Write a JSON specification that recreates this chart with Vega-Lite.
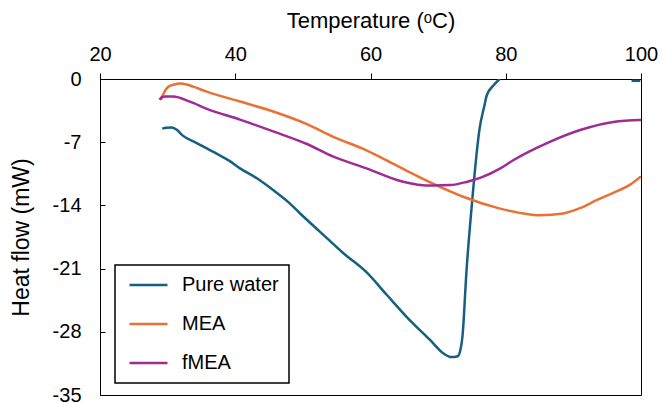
{
  "$schema": "https://vega.github.io/schema/vega-lite/v6.json",
  "width": 541,
  "height": 316,
  "autosize": {"type": "none"},
  "padding": {"left": 100, "top": 79, "right": 21, "bottom": 8},
  "background": "white",
  "config": {
    "font": "Liberation Sans",
    "view": {"stroke": "black", "strokeWidth": 1},
    "axis": {"grid": false, "domainColor": "black", "tickColor": "black", "labelColor": "black", "titleColor": "black", "labelFont": "Liberation Sans", "titleFont": "Liberation Sans", "titleFontWeight": "normal"}
  },
  "data": {
    "values": [
      {"series": "Pure water", "seg": "a", "T": 29.2, "H": -5.5},
      {"series": "Pure water", "seg": "a", "T": 29.8, "H": -5.4},
      {"series": "Pure water", "seg": "a", "T": 30.6, "H": -5.36},
      {"series": "Pure water", "seg": "a", "T": 31.3, "H": -5.6},
      {"series": "Pure water", "seg": "a", "T": 32.3, "H": -6.3},
      {"series": "Pure water", "seg": "a", "T": 34.3, "H": -7.1},
      {"series": "Pure water", "seg": "a", "T": 37.3, "H": -8.3},
      {"series": "Pure water", "seg": "a", "T": 39.2, "H": -9.1},
      {"series": "Pure water", "seg": "a", "T": 40.7, "H": -9.9},
      {"series": "Pure water", "seg": "a", "T": 43.2, "H": -11.0},
      {"series": "Pure water", "seg": "a", "T": 45.6, "H": -12.3},
      {"series": "Pure water", "seg": "a", "T": 48.1, "H": -13.8},
      {"series": "Pure water", "seg": "a", "T": 49.6, "H": -14.9},
      {"series": "Pure water", "seg": "a", "T": 52.5, "H": -16.9},
      {"series": "Pure water", "seg": "a", "T": 56.0, "H": -19.3},
      {"series": "Pure water", "seg": "a", "T": 59.4, "H": -21.4},
      {"series": "Pure water", "seg": "a", "T": 62.4, "H": -23.9},
      {"series": "Pure water", "seg": "a", "T": 65.4, "H": -26.4},
      {"series": "Pure water", "seg": "a", "T": 68.8, "H": -28.9},
      {"series": "Pure water", "seg": "a", "T": 70.8, "H": -30.4},
      {"series": "Pure water", "seg": "a", "T": 72.0, "H": -30.8},
      {"series": "Pure water", "seg": "a", "T": 72.9, "H": -30.7},
      {"series": "Pure water", "seg": "a", "T": 73.3, "H": -30.0},
      {"series": "Pure water", "seg": "a", "T": 73.6, "H": -28.5},
      {"series": "Pure water", "seg": "a", "T": 74.2, "H": -21.2},
      {"series": "Pure water", "seg": "a", "T": 75.0, "H": -13.8},
      {"series": "Pure water", "seg": "a", "T": 75.7, "H": -8.2},
      {"series": "Pure water", "seg": "a", "T": 76.1, "H": -5.65},
      {"series": "Pure water", "seg": "a", "T": 76.8, "H": -3.1},
      {"series": "Pure water", "seg": "a", "T": 77.2, "H": -1.8},
      {"series": "Pure water", "seg": "a", "T": 78.2, "H": -0.7},
      {"series": "Pure water", "seg": "a", "T": 79.1, "H": 0},
      {"series": "Pure water", "seg": "b", "T": 98.6, "H": -0.2},
      {"series": "Pure water", "seg": "b", "T": 99.9, "H": -0.2},
      {"series": "MEA", "seg": "a", "T": 29.0, "H": -2.3},
      {"series": "MEA", "seg": "a", "T": 29.4, "H": -1.6},
      {"series": "MEA", "seg": "a", "T": 30.1, "H": -0.85},
      {"series": "MEA", "seg": "a", "T": 31.0, "H": -0.6},
      {"series": "MEA", "seg": "a", "T": 31.8, "H": -0.5},
      {"series": "MEA", "seg": "a", "T": 32.8, "H": -0.6},
      {"series": "MEA", "seg": "a", "T": 33.8, "H": -0.85},
      {"series": "MEA", "seg": "a", "T": 35.8, "H": -1.4},
      {"series": "MEA", "seg": "a", "T": 40.7, "H": -2.5},
      {"series": "MEA", "seg": "a", "T": 45.6, "H": -3.6},
      {"series": "MEA", "seg": "a", "T": 50.6, "H": -5.0},
      {"series": "MEA", "seg": "a", "T": 54.5, "H": -6.4},
      {"series": "MEA", "seg": "a", "T": 59.4, "H": -7.9},
      {"series": "MEA", "seg": "a", "T": 64.4, "H": -9.8},
      {"series": "MEA", "seg": "a", "T": 69.0, "H": -11.5},
      {"series": "MEA", "seg": "a", "T": 73.9, "H": -13.1},
      {"series": "MEA", "seg": "a", "T": 78.9, "H": -14.3},
      {"series": "MEA", "seg": "a", "T": 83.6, "H": -15.0},
      {"series": "MEA", "seg": "a", "T": 85.1, "H": -15.1},
      {"series": "MEA", "seg": "a", "T": 88.5, "H": -14.9},
      {"series": "MEA", "seg": "a", "T": 91.0, "H": -14.3},
      {"series": "MEA", "seg": "a", "T": 93.5, "H": -13.4},
      {"series": "MEA", "seg": "a", "T": 95.9, "H": -12.6},
      {"series": "MEA", "seg": "a", "T": 98.4, "H": -11.7},
      {"series": "MEA", "seg": "a", "T": 100, "H": -10.8},
      {"series": "fMEA", "seg": "a", "T": 28.8, "H": -2.3},
      {"series": "fMEA", "seg": "a", "T": 29.2, "H": -2.0},
      {"series": "fMEA", "seg": "a", "T": 29.6, "H": -1.95},
      {"series": "fMEA", "seg": "a", "T": 30.8, "H": -1.95},
      {"series": "fMEA", "seg": "a", "T": 33.3, "H": -2.5},
      {"series": "fMEA", "seg": "a", "T": 35.8, "H": -3.3},
      {"series": "fMEA", "seg": "a", "T": 40.7, "H": -4.5},
      {"series": "fMEA", "seg": "a", "T": 45.6, "H": -5.8},
      {"series": "fMEA", "seg": "a", "T": 50.6, "H": -7.2},
      {"series": "fMEA", "seg": "a", "T": 54.5, "H": -8.6},
      {"series": "fMEA", "seg": "a", "T": 59.4, "H": -9.9},
      {"series": "fMEA", "seg": "a", "T": 64.4, "H": -11.3},
      {"series": "fMEA", "seg": "a", "T": 67.0, "H": -11.7},
      {"series": "fMEA", "seg": "a", "T": 69.3, "H": -11.8},
      {"series": "fMEA", "seg": "a", "T": 71.8, "H": -11.75},
      {"series": "fMEA", "seg": "a", "T": 74.2, "H": -11.4},
      {"series": "fMEA", "seg": "a", "T": 76.4, "H": -10.9},
      {"series": "fMEA", "seg": "a", "T": 79.2, "H": -9.9},
      {"series": "fMEA", "seg": "a", "T": 81.1, "H": -9.0},
      {"series": "fMEA", "seg": "a", "T": 86.1, "H": -7.1},
      {"series": "fMEA", "seg": "a", "T": 91.0, "H": -5.65},
      {"series": "fMEA", "seg": "a", "T": 95.9, "H": -4.75},
      {"series": "fMEA", "seg": "a", "T": 100, "H": -4.55}
    ]
  },
  "mark": {"type": "line", "strokeWidth": 2.5, "clip": true, "interpolate": "monotone"},
  "encoding": {
    "x": {
      "field": "T", "type": "quantitative",
      "scale": {"domain": [20, 100], "nice": false, "zero": false},
      "axis": {"orient": "top", "values": [20, 40, 60, 80, 100], "title": "Temperature (ᵒC)", "titleFontSize": 22, "titlePadding": 12, "labelFontSize": 20, "labelPadding": 9, "tickSize": 6, "labelFlush": false}
    },
    "y": {
      "field": "H", "type": "quantitative",
      "scale": {"domain": [-35, 0], "nice": false, "zero": false},
      "axis": {"values": [0, -7, -14, -21, -28, -35], "labelExpr": "'' + datum.value", "title": "Heat flow (mW)", "titleFontSize": 23, "titlePadding": 19, "labelFontSize": 20, "tickSize": -5, "labelPadding": 24}
    },
    "color": {
      "field": "series", "type": "nominal",
      "scale": {"domain": ["Pure water", "MEA", "fMEA"], "range": ["#156082", "#E97132", "#A02B93"]},
      "legend": {"title": null, "orient": "none", "legendX": 15, "legendY": 186, "strokeColor": "black", "fillColor": "white", "padding": 10, "symbolType": "stroke", "symbolSize": 1444, "symbolStrokeWidth": 2.5, "symbolOffset": 3, "labelOffset": 13, "clipHeight": 20, "rowPadding": 19, "labelFontSize": 20, "labelColor": "black", "labelFont": "Liberation Sans",
        "encode": {"legend": {"update": {"strokeWidth": {"value": 1.5}}}}}
    },
    "detail": {"field": "seg", "type": "nominal"}
  }
}
